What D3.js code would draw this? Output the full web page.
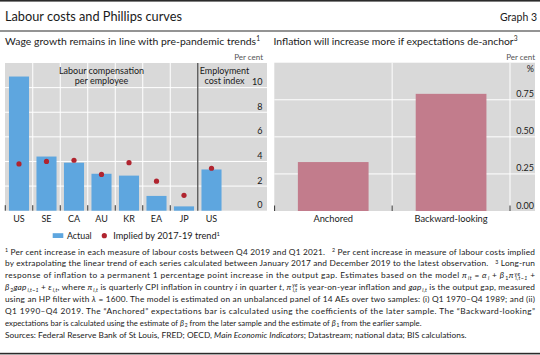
<!DOCTYPE html>
<html><head><meta charset="utf-8">
<script src="https://cdn.jsdelivr.net/npm/d3@7"></script>
<style>
body{margin:0;background:#fff}
svg{display:block;font-family:Lato,'Open Sans',sans-serif}
text{white-space:pre}
</style>
</head><body><svg id="c" width="540" height="355"></svg>
<script>
// ---------- data ----------
const wageKeys = ["US_LC","SE","CA","AU","KR","EA","JP","US_ECI"];
const wageLabels = ["US","SE","CA","AU","KR","EA","JP","US"];
const wageActual = [10.9, 4.4, 3.9, 3.0, 2.85, 1.2, 0.35, 3.35];
const wageImplied = [3.8, 4.0, 4.1, 2.95, 3.9, 2.4, 1.25, 3.45];
const wageTicks = [0, 2, 4, 6, 8, 10];
const inflCategories = ["Anchored", "Backward-looking"];
const inflValues = [0.33, 0.79];
const inflTicks = [0, 0.25, 0.5, 0.75];

const footLines = [
  [["1","sup"],[" Per cent increase in each measure of labour costs between Q4 2019 and Q1 2021.   ",""],["2","sup"],[" Per cent increase in measure of labour costs implied",""]],
  [["by extrapolating the linear trend of each series calculated between January 2017 and December 2019 to the latest observation.   ",""],["3","sup"],[" Long-run",""]],
  [["response of inflation to a permanent 1 percentage point increase in the output gap. Estimates based on the model ",""],["π","i"],["it","isub"],[" = ",""],["α","i"],["i","isub"],[" + ",""],["β","i"],["1","sub"],["π","i"],["ye","isup"],["i,t−1","isubb"],[" +",""]],
  [["β","i"],["2","sub"],["gap","i"],["i,t−1","isub"],[" + ",""],["ε","i"],["i,t","isub"],[", where ",""],["π","i"],["i,t","isub"],[" is quarterly CPI inflation in country ",""],["i","i"],[" in quarter ",""],["t","i"],[", ",""],["π","i"],["ye","isup"],["i,t","isubb"],[" is year-on-year inflation and ",""],["gap","i"],["i,t","isub"],[" is the output gap, measured",""]],
  [["using an HP filter with ",""],["λ","i"],[" = 1600. The model is estimated on an unbalanced panel of 14 AEs over two samples: (i) Q1 1970–Q4 1989; and (ii)",""]],
  [["Q1 1990–Q4 2019. The “Anchored” expectations bar is calculated using the coefficients of the later sample. The “Backward-looking”",""]],
  [["expectations bar is calculated using the estimate of ",""],["β","i"],["2","sub"],[" from the later sample and the estimate of ",""],["β","i"],["1","sub"],[" from the earlier sample.",""]],
];
const sourcesLine = [["Sources: Federal Reserve Bank of St Louis, FRED; OECD, ",""],["Main Economic Indicators","i"],["; Datastream; national data; BIS calculations.",""]];

// ---------- helpers ----------
const svg = d3.select("#c");
const TXT = "#1a1a1a";
function fit(sel, w){
  sel.each(function(){
    const n = this.getComputedTextLength();
    d3.select(this).attr("textLength", w).attr("lengthAdjust", n > w ? "spacingAndGlyphs" : "spacing");
  });
}
function richText(g, x, y, segs, size){
  const t = g.append("text").attr("x", x).attr("y", y).attr("font-size", size).attr("fill", TXT);
  let cur = 0, prev = null, prevKind = "";
  segs.forEach(([s, k]) => {
    let off = 0, fs = size, dx = 0;
    const it = k.startsWith("i");
    if (k.endsWith("sup")) { off = -size*0.33; fs = size*0.64; }
    if (k.endsWith("sub") || k.endsWith("subb")) { off = size*0.18; fs = size*0.64; }
    if (k.endsWith("subb") && prev) dx = -prev.getComputedTextLength();
    else if ((k.endsWith("sub") || k.endsWith("sup")) && prevKind === "i") dx = 0.8;
    const ts = t.append("tspan").text(s).attr("font-size", fs).attr("dy", off - cur);
    if (dx) ts.attr("dx", dx);
    if (it) ts.attr("font-style", "italic");
    cur = off; prev = ts.node(); prevKind = k;
  });
  return t;
}

// ---------- header ----------
svg.append("rect").attr("x",0).attr("y",0).attr("width",540).attr("height",1.6).attr("fill","#2b2b2b");
fit(svg.append("text").attr("x",5).attr("y",21).attr("font-size",12.8).attr("fill",TXT).text("Labour costs and Phillips curves"), 177);
fit(svg.append("text").attr("x",537).attr("y",21).attr("text-anchor","end").attr("font-size",10.5).attr("fill",TXT).text("Graph 3"), 37);
svg.append("rect").attr("x",0).attr("y",30.5).attr("width",540).attr("height",1).attr("fill","#2b2b2b");

// ---------- left panel ----------
const L = svg.append("g");
fit(richText(L, 5, 44.5, [["Wage growth remains in line with pre-pandemic trends",""],["1","sup"]], 10.4), 255);
L.append("text").attr("x",263).attr("y",60).attr("text-anchor","end").attr("font-size",8).attr("fill","#555").text("Per cent");
const lTop = 63, lBot = 210.7, lLeft = 5, lRight = 267;
L.append("rect").attr("x",lLeft).attr("y",lTop).attr("width",lRight-lLeft).attr("height",lBot-lTop).attr("fill","#d9d9d9");
const xL = d3.scaleBand().domain(wageKeys).range([5.25, 225.25]).paddingInner(0.27).paddingOuter(0.135);
const yL = d3.scaleLinear().domain([0, 12]).range([lBot, lTop]);
const stepL = xL.step();
const boundL = wageKeys.slice(1).map(k => xL(k) + xL.bandwidth()/2 - stepL/2);
// grid
L.selectAll(".hg").data(wageTicks.filter(d => d > 0)).join("line")
  .attr("x1",lLeft).attr("x2",lRight).attr("y1",d=>yL(d)).attr("y2",d=>yL(d)).attr("stroke","#fff").attr("stroke-width",1);
L.selectAll(".vg").data(boundL.slice(0,6)).join("line")
  .attr("x1",d=>d).attr("x2",d=>d).attr("y1",lTop).attr("y2",lBot).attr("stroke","#fff").attr("stroke-width",1);
// bars
L.selectAll(".bar").data(wageKeys).join("rect")
  .attr("x",d=>xL(d)).attr("width",xL.bandwidth())
  .attr("y",(d,i)=>yL(wageActual[i])).attr("height",(d,i)=>yL(0)-yL(wageActual[i]))
  .attr("fill","#5ea6df");
// separator
L.append("line").attr("x1",boundL[6]).attr("x2",boundL[6]).attr("y1",lTop).attr("y2",lBot).attr("stroke","#555").attr("stroke-width",1.3);
// bottom ticks
L.selectAll(".tk").data([5.25].concat(boundL.slice(0,6))).join("line")
  .attr("x1",d=>d).attr("x2",d=>d).attr("y1",lBot-5.5).attr("y2",lBot).attr("stroke","#333").attr("stroke-width",1);
// dots
L.selectAll(".dot").data(wageKeys).join("circle")
  .attr("cx",d=>xL(d)+xL.bandwidth()/2).attr("cy",(d,i)=>yL(wageImplied[i])).attr("r",2.6).attr("fill","#b0242f");
// y labels
L.selectAll(".yl").data(wageTicks).join("text")
  .attr("x",262.5).attr("y",d=>yL(d)-2.5).attr("text-anchor","end").attr("font-size",9).attr("fill",TXT).text(d=>d);
// x labels
L.selectAll(".xl").data(wageKeys).join("text")
  .attr("x",d=>xL(d)+xL.bandwidth()/2).attr("y",221.5).attr("text-anchor","middle").attr("font-size",9).attr("fill",TXT)
  .text((d,i)=>wageLabels[i]);
// annotations
L.append("text").attr("x",101.5).attr("y",74).attr("text-anchor","middle").attr("font-size",9).attr("fill",TXT).text("Labour compensation");
L.append("text").attr("x",101.5).attr("y",83.5).attr("text-anchor","middle").attr("font-size",9).attr("fill",TXT).text("per employee");
L.append("text").attr("x",224.5).attr("y",74).attr("text-anchor","middle").attr("font-size",9).attr("fill",TXT).text("Employment");
L.append("text").attr("x",224.5).attr("y",83.5).attr("text-anchor","middle").attr("font-size",9).attr("fill",TXT).text("cost index");
// legend
L.append("rect").attr("x",52.7).attr("y",233.2).attr("width",10.6).attr("height",4.8).attr("fill","#5ea6df");
fit(L.append("text").attr("x",67).attr("y",239).attr("font-size",9.3).attr("fill",TXT).text("Actual"), 24.7);
L.append("circle").attr("cx",104.3).attr("cy",235.7).attr("r",2.6).attr("fill","#b0242f");
fit(richText(L, 113.3, 239, [["Implied by 2017-19 trend",""],["1","sup"]], 9.3), 106.7);

// ---------- right panel ----------
const R = svg.append("g");
fit(richText(R, 273.5, 44.5, [["Inflation will increase more if expectations de-anchor",""],["3","sup"]], 10.4), 244);
R.append("text").attr("x",535).attr("y",60).attr("text-anchor","end").attr("font-size",8).attr("fill","#555").text("Per cent");
const rTop = 62.7, rBot = 211, rLeft = 274.3, rRight = 535;
R.append("rect").attr("x",rLeft).attr("y",rTop).attr("width",rRight-rLeft).attr("height",rBot-rTop).attr("fill","#d9d9d9");
const xR = d3.scaleBand().domain(inflCategories).range([274.3, 510]).paddingInner(0.4).paddingOuter(0.2);
const yR = d3.scaleLinear().domain([0, 1]).range([rBot, rTop]);
const stepR = xR.step();
const boundR = [xR(inflCategories[1]) + xR.bandwidth()/2 - stepR/2, 510];
R.selectAll(".hg").data(inflTicks.filter(d => d > 0)).join("line")
  .attr("x1",rLeft).attr("x2",rRight).attr("y1",d=>yR(d)).attr("y2",d=>yR(d)).attr("stroke","#fff").attr("stroke-width",1);
R.selectAll(".vg").data(boundR).join("line")
  .attr("x1",d=>d).attr("x2",d=>d).attr("y1",rTop).attr("y2",rBot).attr("stroke","#fff").attr("stroke-width",1);
R.selectAll(".bar").data(inflCategories).join("rect")
  .attr("x",d=>xR(d)).attr("width",xR.bandwidth())
  .attr("y",(d,i)=>yR(inflValues[i])).attr("height",(d,i)=>yR(0)-yR(inflValues[i]))
  .attr("fill","#c27c8c");
R.selectAll(".tk").data([274.6].concat(boundR)).join("line")
  .attr("x1",d=>d).attr("x2",d=>d).attr("y1",rBot-5.5).attr("y2",rBot).attr("stroke","#333").attr("stroke-width",1);
R.selectAll(".yl").data(inflTicks).join("text")
  .attr("x",534).attr("y",d=>yR(d)-2.5).attr("text-anchor","end").attr("font-size",9).attr("fill",TXT).text(d=>d3.format(".2f")(d));
R.append("text").attr("x",534).attr("y",71.5).attr("text-anchor","end").attr("font-size",9).attr("fill",TXT).text("%");
R.selectAll(".xl").data(inflCategories).join("text")
  .attr("x",d=>xR(d)+xR.bandwidth()/2).attr("y",222).attr("text-anchor","middle").attr("font-size",9.3).attr("fill",TXT).text(d=>d);

// ---------- footnotes ----------
const F = svg.append("g");
footLines.forEach((segs, i) => {
  const t = richText(F, 5, 254.5 + i*11.9, segs, 8.3);
  fit(t, i < 6 ? 530 : 416.5);
});
fit(richText(F, 5, 338, sourcesLine, 8.3), 461.5);
svg.append("rect").attr("x",0).attr("y",352.8).attr("width",540).attr("height",1.6).attr("fill","#2b2b2b");
</script>
</body></html>
